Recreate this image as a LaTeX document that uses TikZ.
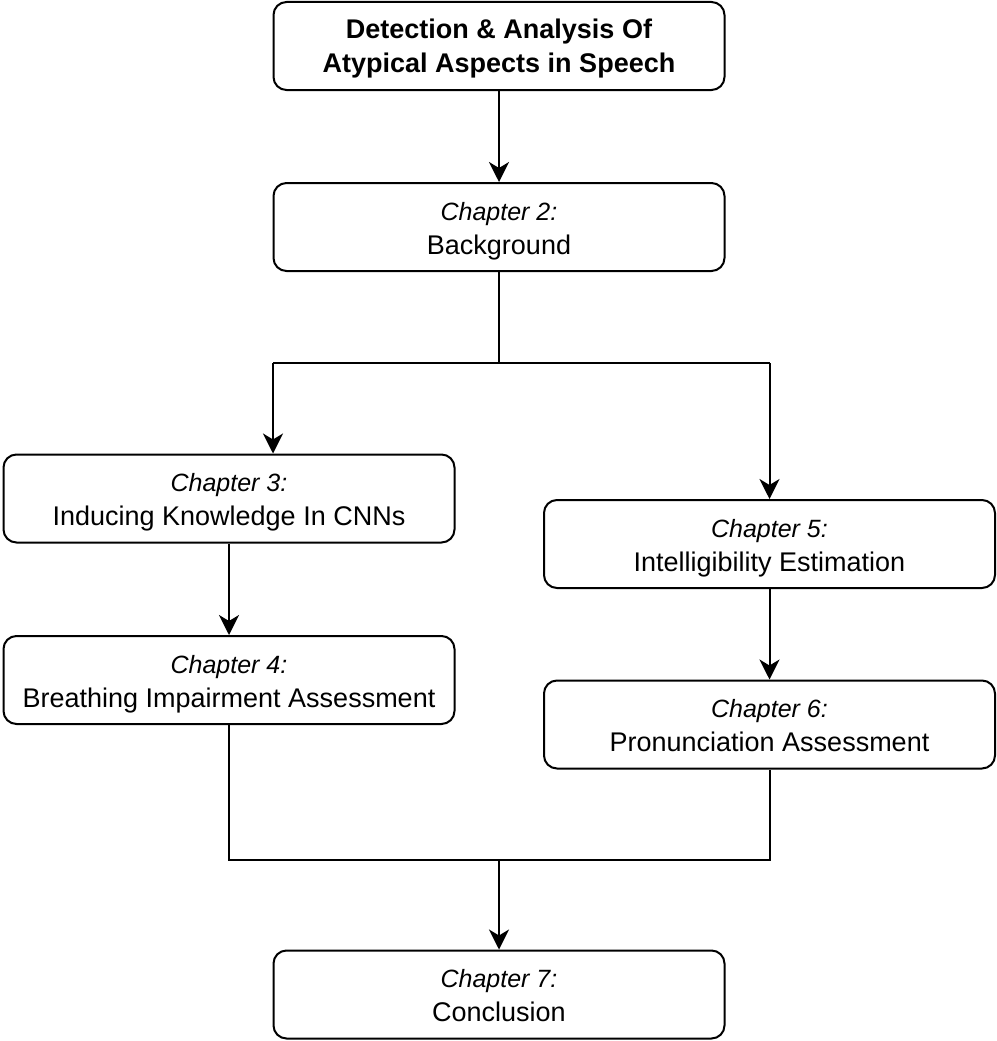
\documentclass[tikz,border=0pt]{standalone}
\usepackage{fontspec}
\setmainfont{Liberation Sans}
\usetikzlibrary{arrows.meta}
\begin{document}
\begin{tikzpicture}[x=1pt,y=-1pt,
  chapbox/.style={draw=black, line width=2pt, rounded corners=13pt, fill=white,
    minimum width=451pt, minimum height=88pt, inner sep=0pt, align=center,
    text height=60pt, text depth=6pt,
    font=\fontsize{27}{34}\selectfont},
  titlebox/.style={chapbox, text height=58pt, text depth=6pt,
    font=\fontsize{27}{33}\selectfont\bfseries},
  link/.style={draw=black, line width=2pt},
  arrowlink/.style={link, -{Stealth[length=20pt, width=20pt, inset=6pt]}}
]
\useasboundingbox (0,0) rectangle (996,1041);
\newcommand{\chaplabel}[1]{{\fontsize{25}{32}\selectfont\itshape #1}}

\node[titlebox] (title) at (499,46)
  {Detection \& Analysis Of\\Atypical Aspects in Speech};
\node[chapbox] (c2) at (499,227) {\chaplabel{Chapter 2:}\\Background};
\node[chapbox] (c3) at (229,498.5) {\chaplabel{Chapter 3:}\\Inducing Knowledge In CNNs};
\node[chapbox] (c4) at (229,680) {\chaplabel{Chapter 4:}\\Breathing Impairment Assessment};
\node[chapbox] (c5) at (769.5,544) {\chaplabel{Chapter 5:}\\Intelligibility Estimation};
\node[chapbox] (c6) at (769.5,724.5) {\chaplabel{Chapter 6:}\\Pronunciation Assessment};
\node[chapbox] (c7) at (499,994.5) {\chaplabel{Chapter 7:}\\Conclusion};

\coordinate (split) at (499,363);
\coordinate (splitL) at (273,363);
\coordinate (splitR) at (769.5,363);
\coordinate (joinL) at (229,860);
\coordinate (joinR) at (769.5,860);
\coordinate (join) at (499,860);

\draw[arrowlink] (title.south) -- (c2.north);
\draw[link] (c2.south) -- (split);
\draw[link] (splitL) -- (splitR);
\draw[arrowlink] (splitL) -- (splitL |- c3.north);
\draw[arrowlink] (splitR) -- (c5.north);
\draw[arrowlink] (c3.south) -- (c4.north);
\draw[arrowlink] (c5.south) -- (c6.north);
\draw[link] (c4.south) -- (joinL) -- (joinR) -- (c6.south);
\draw[arrowlink] (join) -- (c7.north);
\end{tikzpicture}
\end{document}
